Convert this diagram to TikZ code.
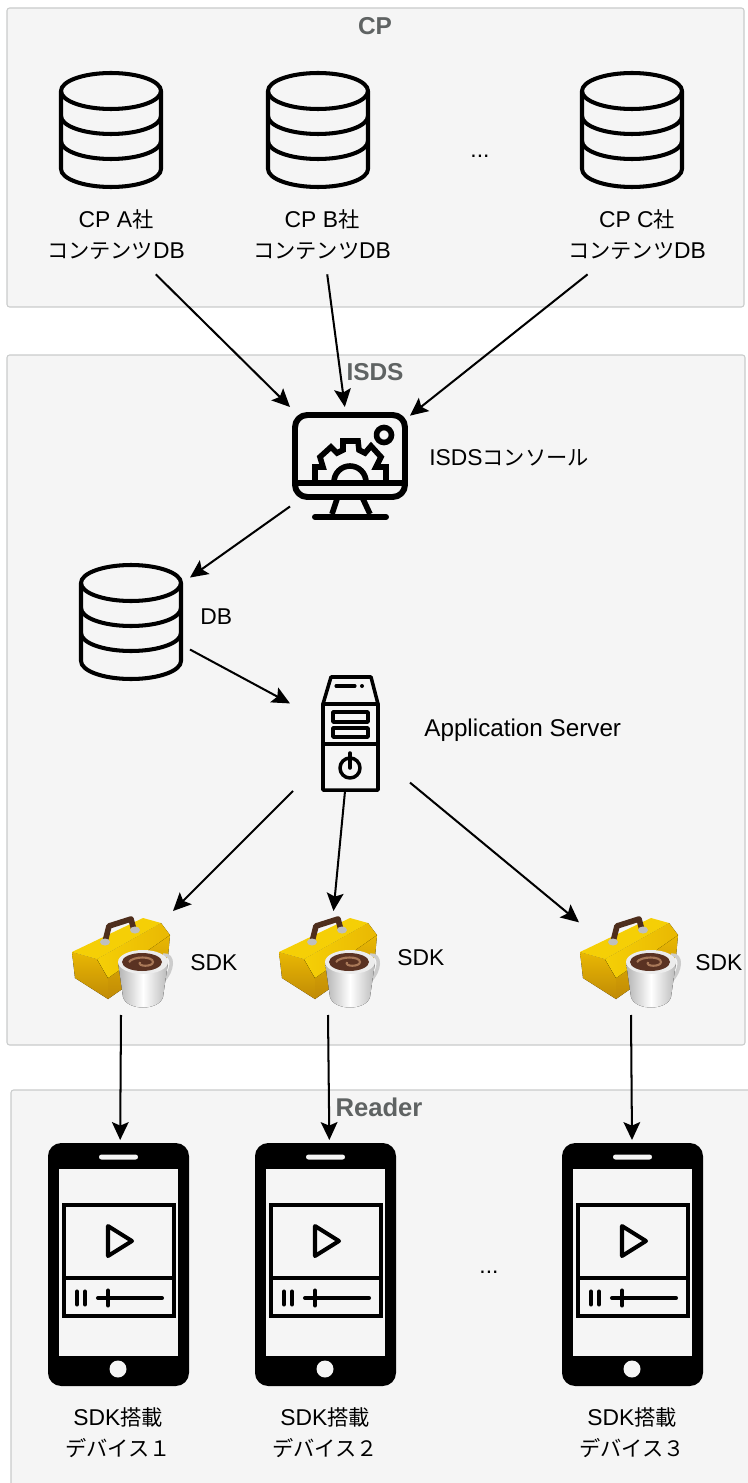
\documentclass[tikz,border=0pt]{standalone}
\usepackage{fontspec}
\setmainfont{Liberation Sans}
\newfontfamily\jp[Scale=0.93]{Noto Sans CJK JP}
\usetikzlibrary{arrows.meta}
\definecolor{panelfill}{HTML}{F5F5F5}
\definecolor{panelline}{HTML}{C9CBCB}
\definecolor{paneltitle}{HTML}{5F6363}
\definecolor{toolbright}{HTML}{F5CF06}
\definecolor{toolgold}{HTML}{E9B803}
\definecolor{tooldark}{HTML}{C08A06}
\definecolor{toolhandle}{HTML}{4E2E1C}
\definecolor{coffee}{HTML}{5A3222}
\definecolor{swirl}{HTML}{A87858}
\tikzset{
    panel/.style={draw=panelline, fill=panelfill, line width=0.6pt, rounded corners=1.5pt},
    title/.style={font=\fontsize{13.9}{16}\selectfont\bfseries, text=paneltitle, inner sep=0pt},
    label/.style={font=\fontsize{13}{17.6}\selectfont, align=center, inner sep=0pt},
    conn/.style={-{Stealth[length=10.2pt,width=9.5pt,inset=2pt]}, line width=1.15pt},
    iconbox/.style={inner sep=0pt, outer sep=0pt, minimum width=#1},
    icon/.style={line width=2.3pt, line join=round, line cap=round},
    dbicon/.pic={
        \draw[icon] (0,-39) ellipse [x radius=50,y radius=18];
        \draw[icon] (-50,-39) -- (-50,39) arc [start angle=180,end angle=0,x radius=50,y radius=18] -- (50,-39);
        \draw[icon] (-50,-14) arc [start angle=180,end angle=0,x radius=50,y radius=18];
        \draw[icon] (-50,11) arc [start angle=180,end angle=0,x radius=50,y radius=18];
    },
    consoleicon/.pic={
        \draw[icon, line width=3.4pt, rounded corners=7pt] (-55,-51) rectangle (55,31);
        \draw[icon, line width=3.2pt] (-55,17) -- (55,17);
        \draw[icon, line width=3.2pt, line cap=butt] (-13,33) -- (-18,48);
        \draw[icon, line width=3.2pt, line cap=butt] (13,33) -- (20,48);
        \draw[icon, line width=3.4pt] (-35,51) -- (36,51);
        \draw[icon, line width=3.2pt] (34,-31) circle (7.5);
        \draw[icon, line width=3.2pt, line join=miter, line cap=butt] (-35,15) -- (-35,1) -- (-27,1) -- (-30,-9) -- (-19,-19) -- (-13,-13)
            -- (-7,-16) -- (-7,-25) -- (8,-25) -- (9,-16) -- (15,-13) -- (21,-20) -- (31,-9) -- (26,1) -- (36,1) -- (36,15);
        \draw[icon, line width=3.2pt, line cap=butt] (-16,16) arc [start angle=180,end angle=0,x radius=16,y radius=-16];
    },
    servericon/.pic={
        \draw[icon, line width=2pt] (-27,-30) -- (-19,-57) -- (21,-57) -- (28,-30) -- (28,56) -- (-27,56) -- cycle;
        \draw[icon, line width=2pt] (-27,-30) -- (28,-30);
        \draw[icon, line width=2pt] (-27,10) -- (28,10);
        \draw[icon, line width=2pt] (-17,-22) rectangle (18,-12);
        \draw[icon, line width=2pt] (-17,-6) rectangle (18,3);
        \draw[icon, line width=1.8pt] (-14,-48) -- (5,-48);
        \fill (12,-48) circle (2);
        \draw[icon, line width=2pt] (0,34) circle (10);
        \draw[icon, line width=2pt] (0,19) -- (0,34);
    },
    phoneicon/.pic={
        \fill[black, rounded corners=7.5pt] (-70,-121.5) rectangle (71,121.5);
        \fill[panelfill] (-59,-95.5) rectangle (60,91.5);
        \fill[panelfill, rounded corners=1.4pt] (-19,-110) rectangle (20,-105);
        \fill[panelfill] (0,104.5) circle (8.5);
        \draw[icon, line width=2pt, line join=miter] (-54,-59.5) rectangle (56,51.5);
        \draw[icon, line width=2pt, line cap=butt] (-54,13.5) -- (56,13.5);
        \draw[icon] (-10,-38.5) -- (-10,-8.5) -- (14,-23.5) -- cycle;
        \draw[icon] (-41,27) -- (-41,40);
        \draw[icon] (-33,27) -- (-33,40);
        \draw[icon] (-20,33.5) -- (44,33.5);
        \draw[icon] (-10,26) -- (-10,41);
    },
    sdkicon/.pic={
        % toolbox
        \fill[top color=toolgold, bottom color=tooldark] (-49,-11) -- (-24,-4) -- (-13,15) -- (-13,36) -- (-46,15) -- cycle;
        \fill[top color=toolgold, bottom color=tooldark] (-24,-4) -- (49,-28) -- (47,-6) -- (-13,36) -- (-13,15) -- cycle;
        \fill[left color=toolbright, right color=toolgold] (-24,-4) -- (40,-40) -- (49,-28) -- (-13,15) -- cycle;
        \fill[toolbright] (-49,-11) -- (22,-45) -- (40,-40) -- (-24,-4) -- cycle;
        % handle
        \draw[line width=3.2pt, draw=toolhandle, line join=round] (-16,-21) -- (-12,-37) -- (10,-44) -- (13,-33);
        \fill[gray!50] (-16,-21) ellipse [x radius=5,y radius=3.5];
        \fill[gray!50] (14,-33) ellipse [x radius=5,y radius=3.5];
        % cup
        \draw[line width=2pt, draw=gray!40] (42,-8) .. controls (54,-9) and (52,8) .. (42,18);
        \fill[left color=gray!60, right color=gray!55, middle color=white] (-3,-1) -- (2,34) .. controls (6,48) and (38,48) .. (42,34) -- (47,-1) -- cycle;
        \fill[gray!15] (22,-1) ellipse [x radius=25,y radius=12];
        \fill[coffee] (21,-1) ellipse [x radius=20,y radius=9];
        \draw[swirl, line width=1.2pt] (8,-1) .. controls (12,-7) and (32,-7) .. (32,-1) .. controls (32,4) and (16,4) .. (19,-1);
    },
}
\begin{document}
\begin{tikzpicture}[x=0.02cm, y=-0.02cm]
    \useasboundingbox (0,0) rectangle (747,1483);

    % Panels
    \draw[panel] (7,8) rectangle (744,307);
    \draw[panel] (7,355) rectangle (745,1045);
    \draw[panel] (11,1090) rectangle (752,1490);
    \node[title] (cptitle) at (375,26) {CP};
    \node[title] (isdstitle) at (375,372) {ISDS};
    \node[title, font=\fontsize{14.6}{16}\selectfont\bfseries] (readertitle) at (379,1107) {Reader};

    % Content DBs
    \foreach \n/\x/\y in {A/111/116, B/318/322, C/632/637} {
        \pic at (\x,130) {dbicon};
        \node[label, minimum width=2.8cm, minimum height=1.56cm] (cont\n) at (\y,235) {CP \n{\jp 社}\\{\jp コンテンツ}DB};
    }
    \node[label] (cpdots) at (480,156) {...};

    % ISDS console, DB, server
    \node[iconbox=2.4cm, minimum height=2.36cm] (console) at (350,466) {};
    \pic at (console) {consoleicon};
    \node[label, anchor=west] (consolelabel) at (429,458) {ISDS{\jp コンソール}};
    \node[iconbox=2.36cm, minimum height=2.24cm] (isdsdb) at (131,622) {};
    \pic at (isdsdb) {dbicon};
    \node[label, anchor=west] (dblabel) at (200,617) {DB};
    \node[iconbox=2.4cm, minimum height=2.28cm] (server) at (350,734) {};
    \pic at (server) {servericon};
    \node[label, anchor=west, font=\fontsize{13.8}{17}\selectfont] (serverlabel) at (424,730) {Application Server};

    % SDKs and devices
    \foreach \n/\x/\i/\t/\y/\p in {1/121/121/190/963/118, 2/328/328/397/958/325, 3/631/629/695/963/632} {
        \node[iconbox=2.08cm, minimum height=2.08cm] (sdk\n) at (\x,963) {};
        \pic at (\i,963) {sdkicon};
        \node[label, anchor=west] (sdklabel\n) at (\t,\y) {SDK};
        \node[iconbox=2.92cm, minimum height=4.98cm] (phone\n) at (\p,1264.5) {};
        \pic at (phone\n) {phoneicon};
    }
    \node[label] (dev1) at (118,1433) {SDK{\jp 搭載}\\{\jp デバイス１}};
    \node[label] (dev2) at (325,1433) {SDK{\jp 搭載}\\{\jp デバイス２}};
    \node[label] (dev3) at (632,1433) {SDK{\jp 搭載}\\{\jp デバイス３}};
    \node[label] (readerdots) at (489,1272) {...};

    % Arrows
    \draw[conn] (contA) -- (console.north west);
    \draw[conn] (contB) -- (console.95);
    \draw[conn] (contC) -- (console.40);
    \draw[conn] (console.214.6) -- (isdsdb.37);
    \draw[conn] (isdsdb.-25.4) -- (server.153);
    \draw[conn] (server.225.5) -- (sdk1.north east);
    \draw[conn] (server.265) -- (sdk2.84);
    \draw[conn] (server.-39.5) -- (sdk3.142);
    \draw[conn] (sdk1.south) -- (phone1.89);
    \draw[conn] (sdk2.south) -- (phone2.88.6);
    \draw[conn] (sdk3.south) -- (phone3.90.5);
\end{tikzpicture}
\end{document}
